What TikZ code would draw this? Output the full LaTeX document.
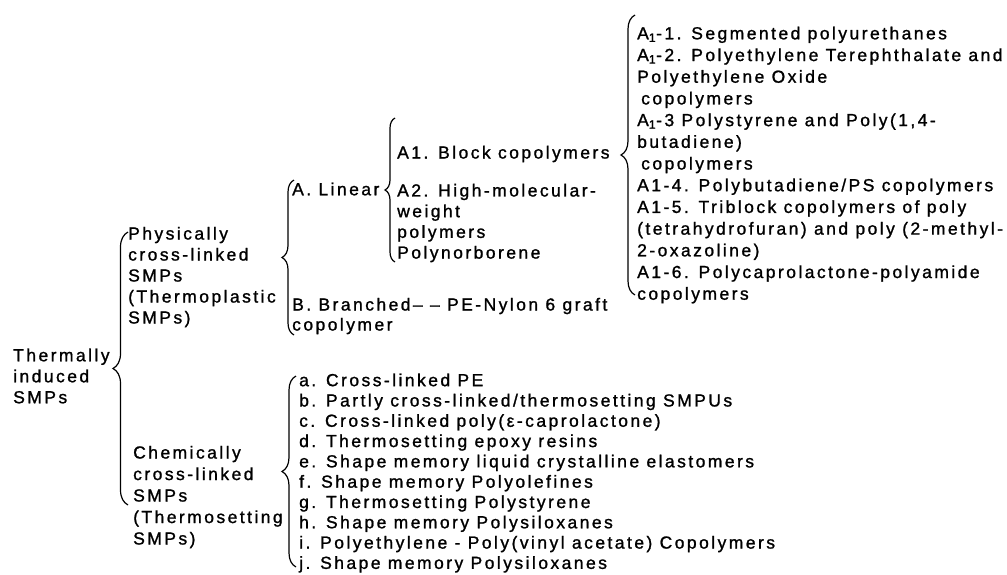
\documentclass[tikz,border=0pt]{standalone}
\usepackage{fontspec}
\setmainfont{Liberation Sans}[LetterSpace = 14, FakeBold = 1.2]
\usetikzlibrary{decorations.pathreplacing}

\begin{document}
\begin{tikzpicture}[x = 1pt, y = -1pt]
        \useasboundingbox (0, 0) rectangle (1007, 574);
        \begin{scope}[lbl/.style = {anchor = west, inner sep = 0pt, align = left, font = \fontsize{17.5}{#1}\selectfont}, brc/.style = {decorate, decoration = {brace, amplitude = #1}, line width = 1.2pt}]
            \node[lbl = 21] (therm) at (13, 376) {Thermally\\induced\\SMPs};
            \node[lbl = 21] (phys) at (128, 277) {Physically\\cross-linked\\SMPs\\(Thermoplastic\\SMPs)};
            \node[lbl = 21.5] (chem) at (133, 497) {Chemically\\cross-linked\\SMPs\\(Thermosetting\\SMPs)};
            \node[lbl = 20] (linear) at (292, 189) {A. Linear};
            \node[lbl = 20] (branched) at (292, 316) {B. Branched-- -- PE-Nylon 6 graft\\copolymer};
            \node[lbl = 20] (blockA) at (397, 154) {A1. Block copolymers};
            \node[lbl = 20.7] (highA) at (397, 223) {A2. High-molecular-\\weight\\polymers\\Polynorborene};
            \node[lbl = 21.7] (blocklist) at (637, 165) {A\textsubscript{1}-1. Segmented polyurethanes\\A\textsubscript{1}-2. Polyethylene Terephthalate and\\Polyethylene Oxide\\\hspace*{4pt}copolymers\\A\textsubscript{1}-3 Polystyrene and Poly(1,4-\\butadiene)\\\hspace*{4pt}copolymers\\A1-4. Polybutadiene/PS copolymers\\A1-5. Triblock copolymers of poly\\(tetrahydrofuran) and poly (2-methyl-\\2-oxazoline)\\A1-6. Polycaprolactone-polyamide\\copolymers};
            \node[lbl = 20.3] (chemlist) at (299, 473) {a. Cross-linked PE\\b. Partly cross-linked/thermosetting SMPUs\\c. Cross-linked poly(ε-caprolactone)\\d. Thermosetting epoxy resins\\e. Shape memory liquid crystalline elastomers\\f. Shape memory Polyolefines\\g. Thermosetting Polystyrene\\h. Shape memory Polysiloxanes\\i. Polyethylene - Poly(vinyl acetate) Copolymers\\j. Shape memory Polysiloxanes};
            \coordinate (thermTop) at (128, 232);
            \coordinate (thermBot) at (128, 505);
            \coordinate (physTop) at (294, 180);
            \coordinate (physBot) at (294, 335);
            \coordinate (linTop) at (395, 118);
            \coordinate (linBot) at (395, 262);
            \coordinate (blockTop) at (635, 15);
            \coordinate (blockBot) at (635, 295);
            \coordinate (chemTop) at (296, 376);
            \coordinate (chemBot) at (296, 567);
            \draw[brc = 15pt] (thermBot) -- (thermTop);
            \draw[brc = 12pt] (physBot) -- (physTop);
            \draw[brc = 10pt] (linBot) -- (linTop);
            \draw[brc = 14pt] (blockBot) -- (blockTop);
            \draw[brc = 14pt] (chemBot) -- (chemTop);
        \end{scope}
    \end{tikzpicture}
\end{document}
